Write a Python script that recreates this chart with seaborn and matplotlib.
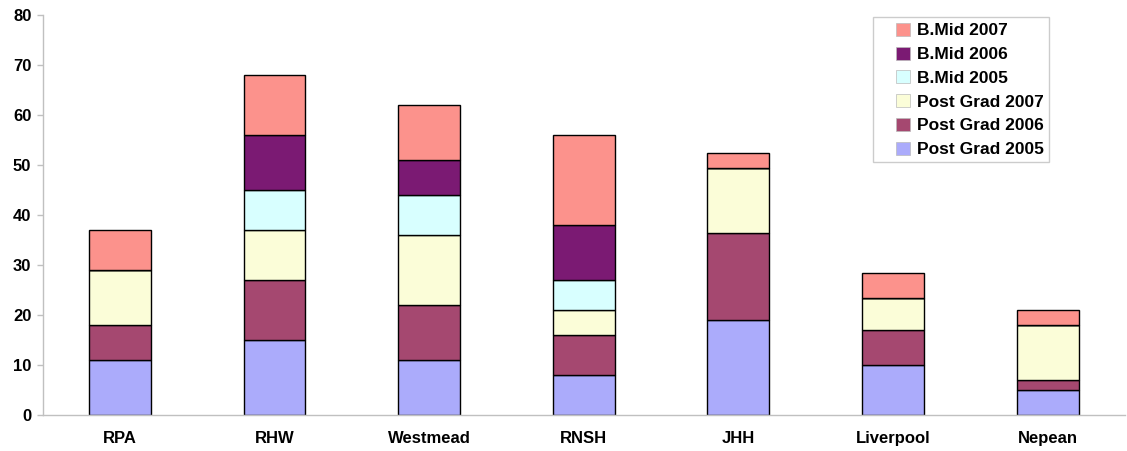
import matplotlib
matplotlib.use("Agg")
import matplotlib.pyplot as plt
import matplotlib.patches as mpatches
from matplotlib.legend_handler import HandlerPatch
import seaborn as sns
import pandas as pd
import numpy as np

categories = ["RPA", "RHW", "Westmead", "RNSH", "JHH", "Liverpool", "Nepean"]
post_grad_2005 = [11, 15, 11, 8, 19, 10, 5]
post_grad_2006 = [7, 12, 11, 8, 17.5, 7, 2]
post_grad_2007 = [11, 10, 14, 5, 13, 6.5, 11]
bmid_2005 = [0, 8, 8, 6, 0, 0, 0]
bmid_2006 = [0, 11, 7, 11, 0, 0, 0]
bmid_2007 = [8, 12, 11, 18, 3, 5, 3]

series_names = ["B.Mid 2007", "B.Mid 2006", "B.Mid 2005",
                "Post Grad 2007", "Post Grad 2006", "Post Grad 2005"]
series_values = [bmid_2007, bmid_2006, bmid_2005,
                 post_grad_2007, post_grad_2006, post_grad_2005]
colors = ["#FC928C", "#7B1A73", "#D8FFFF", "#FBFDD8", "#A54870", "#ABABFB"]

rows = []
for name, vals in zip(series_names, series_values):
    for c, v in zip(categories, vals):
        rows.append({"site": c, "series": name, "value": v})
df = pd.DataFrame(rows)
df["site"] = pd.Categorical(df["site"], categories=categories, ordered=True)

sns.set_theme(style="white")
plt.rcParams["font.family"] = ["Liberation Sans", "DejaVu Sans"]

fig = plt.figure(figsize=(11.27, 4.51), dpi=100)
ax = fig.add_axes([42.5 / 1127, 35.7 / 451, (1125 - 42.5) / 1127, 399.8 / 451])

sns.histplot(data=df, x="site", hue="series", weights="value",
             hue_order=series_names, palette=colors, multiple="stack",
             discrete=True, shrink=0.4, alpha=1, edgecolor="black",
             linewidth=1.0, ax=ax)

ax.set_xlim(-0.5, 6.5)
ax.set_ylim(0, 80)
ax.set_yticks(np.arange(0, 81, 10))
ax.set_xticks(range(len(categories)))
ax.set_xticklabels(categories)
ax.set_xticks(np.arange(-0.5, 7, 1), minor=True)
ax.tick_params(axis="x", which="major", length=0, pad=11, labelsize=12)
ax.tick_params(axis="x", which="minor", length=4, width=1, color="#C0C0C0", direction="out")
ax.tick_params(axis="y", length=4, width=1, color="#C0C0C0", direction="out", pad=4, labelsize=12, left=True)
for lab in ax.get_xticklabels() + ax.get_yticklabels():
    lab.set_fontweight("bold")
    lab.set_color("black")
ax.set_xlabel("")
ax.set_ylabel("")
for s in ["top", "right"]:
    ax.spines[s].set_visible(False)
for s in ["left", "bottom"]:
    ax.spines[s].set_color("#C0C0C0")
    ax.spines[s].set_linewidth(1)


def swatch(legend, orig_handle, xdescent, ydescent, width, height, fontsize):
    w, h = 10.0, 9.4
    return mpatches.Rectangle((width - w - xdescent, -ydescent + (height - h) / 2), w, h)


sns.move_legend(ax, "upper left", bbox_to_anchor=(873 / 1127, 1 - 17 / 451),
                bbox_transform=fig.transFigure, title=None, frameon=True,
                fancybox=False, prop={"weight": "bold", "size": 12.5},
                handlelength=1.85, handleheight=0.9, handletextpad=0.4,
                labelspacing=0.435, borderpad=0.3, borderaxespad=0,
                edgecolor="#C0C0C0", labelcolor="black",
                handler_map={mpatches.Rectangle: HandlerPatch(patch_func=swatch)})
leg = ax.get_legend()
for h in leg.legend_handles:
    h.set_edgecolor("#BBBBBB")
    h.set_linewidth(0.5)
leg.get_frame().set_linewidth(1)

fig.savefig("out.png", dpi=100)
